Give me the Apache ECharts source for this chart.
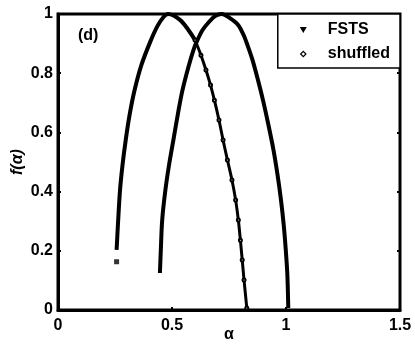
<!DOCTYPE html>
<html>
<head>
<meta charset="utf-8">
<script src="https://cdn.jsdelivr.net/npm/echarts@6/dist/echarts.min.js"></script>
<style>html,body{margin:0;padding:0;background:#fff}#c{width:415px;height:346px}</style>
</head>
<body>
<div id="c"></div>
<script>
// Tick labels
const xTicks = [0, 0.5, 1, 1.5];
const yTicks = [0, 0.2, 0.4, 0.6, 0.8, 1];

// FSTS spectrum (alpha, f(alpha))
const fstsAlpha = [0.447,0.451,0.457,0.471,0.487,0.506,0.529,0.546,0.572,0.594,0.610,0.634,0.662,0.689,0.718,0.754,0.790,0.814,0.831,0.853,0.877,0.899,0.923,0.945,0.963,0.978,0.990,0.999,1.006,1.010];
const fstsF     = [0.125,0.203,0.304,0.405,0.490,0.574,0.676,0.743,0.821,0.878,0.909,0.946,0.973,0.993,1.000,0.986,0.963,0.929,0.895,0.845,0.777,0.709,0.625,0.541,0.456,0.372,0.287,0.203,0.118,0.007];

// shuffled spectrum: dense part (left branch and top, drawn thick)
const shufDenseAlpha = [0.257,0.264,0.272,0.283,0.297,0.314,0.336,0.366,0.404,0.436,0.463,0.483,0.535,0.572,0.601];
const shufDenseF     = [0.203,0.304,0.405,0.490,0.574,0.659,0.743,0.828,0.905,0.959,0.990,1.000,0.980,0.946,0.912];
// shuffled spectrum: sparse part (right branch below the crossing)
const shufSparseAlpha = [0.601,0.627,0.649,0.669,0.686,0.706,0.724,0.743,0.763,0.779,0.791,0.800,0.808,0.816,0.828];
const shufSparseF     = [0.912,0.861,0.811,0.760,0.709,0.642,0.574,0.507,0.439,0.372,0.304,0.236,0.169,0.101,0.007];
// isolated shuffled point
const shufLoneAlpha = [0.257];
const shufLoneF     = [0.163];

const zip = (a, b) => a.map((v, i) => [v, b[i]]);
const FONT = 'Liberation Sans';

const chart = echarts.init(document.getElementById('c'), null, {renderer: 'canvas'});
chart.setOption({
  animation: false,
  backgroundColor: '#fff',
  grid: {left: 58, right: 15, top: 14, bottom: 36, show: true, borderColor: '#000', borderWidth: 3,
    containLabel: false, outerBoundsMode: 'none'},
  xAxis: {
    type: 'value', min: 0, max: 1.5, interval: 0.5,
    name: 'α', nameLocation: 'middle', nameGap: 17, nameMoveOverlap: false,
    nameTextStyle: {fontFamily: FONT, fontWeight: 'bold', fontSize: 16, color: '#000'},
    axisLine: {show: true, lineStyle: {color: '#000', width: 3}},
    axisTick: {show: true, inside: true, length: 3, lineStyle: {color: '#000', width: 2}},
    splitLine: {show: false},
    axisLabel: {margin: 8, fontFamily: FONT, fontWeight: 'bold', fontSize: 16, color: '#000',
      formatter: v => xTicks.includes(v) ? String(v) : ''}
  },
  yAxis: [{
    type: 'value', min: 0, max: 1, interval: 0.2,
    name: 'f(α)', nameLocation: 'middle', nameGap: 32, nameRotate: 90, nameMoveOverlap: false,
    nameTextStyle: {fontFamily: FONT, fontWeight: 'bold', fontStyle: 'italic', fontSize: 16, color: '#000'},
    axisLine: {show: true, lineStyle: {color: '#000', width: 3}},
    axisTick: {show: true, inside: true, length: 3, lineStyle: {color: '#000', width: 2}},
    splitLine: {show: false},
    axisLabel: {margin: 5, fontFamily: FONT, fontWeight: 'bold', fontSize: 16, color: '#000',
      formatter: v => { const t = yTicks.find(k => Math.abs(k - v) < 1e-9); return t === undefined ? '' : String(t); }}
  }, {
    type: 'value', min: 0, max: 1, interval: 0.2, position: 'right',
    axisLine: {show: true, lineStyle: {color: '#000', width: 2}},
    axisTick: {show: true, inside: true, length: 3, lineStyle: {color: '#000', width: 2}},
    axisLabel: {show: false}, splitLine: {show: false}
  }],
  legend: {
    orient: 'vertical', right: 15, top: 14,
    backgroundColor: '#fff', borderColor: '#000', borderWidth: 1.5, borderRadius: 0,
    padding: [6, 10, 4, 22], itemGap: 4, itemWidth: 7, itemHeight: 7,
    textStyle: {fontFamily: FONT, fontWeight: 'bold', fontSize: 16, color: '#000', lineHeight: 20, padding: [0, 0, 0, 16]},
    data: [
      {name: 'FSTS', icon: 'path://M-4,-3L4,-3L0,4Z', itemStyle: {color: '#000', borderWidth: 0}},
      {name: 'shuffled', icon: 'path://M0,-4L4,0L0,4L-4,0ZM0,-2L-2,0L0,2L2,0Z', itemStyle: {color: '#000', borderWidth: 0}}
    ]
  },
  graphic: [{
    type: 'text', left: 78, top: 28,
    style: {text: '(d)', fontFamily: FONT, fontWeight: 'bold', fontSize: 16, fill: '#000'}
  }],
  series: [
    {name: 'FSTS', type: 'line', data: zip(fstsAlpha, fstsF), smooth: 0.3, showSymbol: false,
      lineStyle: {color: '#000', width: 4}, itemStyle: {color: '#000'}, clip: false},
    {name: 'shuffled', type: 'line', data: zip(shufDenseAlpha, shufDenseF), smooth: 0.3, showSymbol: false,
      lineStyle: {color: '#000', width: 4}, itemStyle: {color: '#000'}, clip: false},
    {name: 'shuffled', type: 'line', data: zip(shufSparseAlpha, shufSparseF), smooth: 0.3,
      showSymbol: true, symbol: 'emptyCircle', symbolSize: 3,
      lineStyle: {color: '#000', width: 3}, itemStyle: {color: '#000', borderColor: '#000', borderWidth: 1}, clip: false},
    {name: 'shuffled', type: 'scatter', data: zip(shufLoneAlpha, shufLoneF), symbol: 'rect', symbolSize: 5,
      itemStyle: {color: '#000'}}
  ]
});
</script>
</body>
</html>
